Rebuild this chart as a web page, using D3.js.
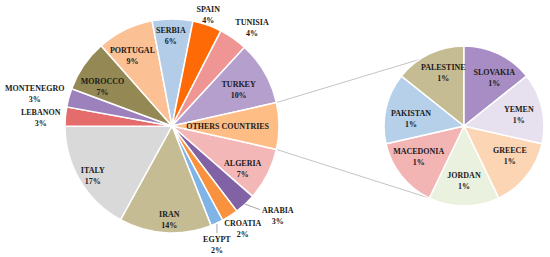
<!DOCTYPE html>
<html>
<head>
<meta charset="utf-8">
<script src="https://cdn.jsdelivr.net/npm/d3@7"></script>
<style>
  body { margin: 0; background: #fff; }
  svg text { font-family: "Liberation Serif", serif; font-weight: bold; font-size: 9px; fill: #1a1a1a; }
</style>
</head>
<body>
<svg width="550" height="257"></svg>
<script>
// main pie, alphabetical like the source sheet, "others" goes last
var mainNames = ["ALGERIA", "ARABIA", "CROATIA", "EGYPT", "IRAN", "ITALY", "LEBANON",
                 "MONTENEGRO", "MOROCCO", "PORTUGAL", "SERBIA", "SPAIN", "TUNISIA", "TURKEY"];
var mainValues = [7.9, 3.2, 2.5, 1.9, 13.9, 16.9, 2.9, 2.8, 7.8, 8.5, 6.1, 4.4, 4.3, 9.6];
var mainPct = ["7%", "3%", "2%", "2%", "14%", "17%", "3%", "3%", "7%", "9%", "6%", "4%", "4%", "10%"];

var otherLabel = "OTHERS COUNTRIES";
var otherNames = ["GREECE", "JORDAN", "MACEDONIA", "PAKISTAN", "PALESTINE", "SLOVAKIA", "YEMEN"];
var otherValues = [1, 1, 1, 1, 1, 1, 1];
var otherPct = ["1%", "1%", "1%", "1%", "1%", "1%", "1%"];

var mainColors = ["#f4b7b7", "#8162a4", "#f9923f", "#80b3e6", "#c5bc93", "#d9d9d9", "#e46c6c",
                  "#9c81bd", "#948954", "#fbc194", "#b3cce8", "#fd6a06", "#ef9594", "#b59fcd"];
var othersColor = "#fdbd85";
var otherColors = ["#fcd5b5", "#ebf1df", "#f3b4b4", "#b6d0ea", "#c5bc93", "#a88dc4", "#e7e0ee"];

// label placement: [radius factor, angle shift in degrees]
var place = {
  "ALGERIA": [0.77, 4], "ARABIA": [1.29, -7], "CROATIA": [1.16, -2], "EGYPT": [1.18, 4],
  "IRAN": [0.87, -2], "ITALY": [0.87, -1], "LEBANON": [1.23, -1], "MONTENEGRO": [1.32, -1.7],
  "MOROCCO": [0.75, -4.5], "PORTUGAL": [0.76, -3], "SERBIA": [0.85, -1], "SPAIN": [1.1, -1.3],
  "TUNISIA": [1.19, 4], "TURKEY": [0.71, 1.25], "OTHERS COUNTRIES": [0.52, 0]
};
var place2 = {
  "GREECE": [0.68, -6], "JORDAN": [0.67, 0], "MACEDONIA": [0.68, 5], "PAKISTAN": [0.67, -4],
  "PALESTINE": [0.72, 4.6], "SLOVAKIA": [0.72, 6], "YEMEN": [0.70, 1]
};

var svg = d3.select("svg"),
    cx = 172, cy = 126, r = 107,
    cx2 = 464, cy2 = 126, r2 = 80,
    squeeze = 0.89,
    rad = Math.PI / 180;

var othersValue = d3.sum(otherValues);
var names = mainNames.concat([otherLabel]),
    values = mainValues.concat([othersValue]),
    pcts = mainPct.concat([""]),
    colors = mainColors.concat([othersColor]);

var total = d3.sum(values);
var othersAngle = 2 * Math.PI * othersValue / total;
var start = Math.PI / 2 + othersAngle / 2;   // others slice centred on the right

var pie = d3.pie().sort(null).value(function(d) { return d; })
    .startAngle(start).endAngle(start + 2 * Math.PI);
var arcs = pie(values);

var arc = d3.arc().innerRadius(0).outerRadius(r);

function pt(a, rr, x0, y0) {
  return [x0 + rr * Math.sin(a), y0 - rr * Math.cos(a)];
}

// two-line label, glyphs narrowed a bit to look like the book face of the original
function label(c, name, pct) {
  var t = svg.append("text").attr("text-anchor", "middle")
      .attr("transform", "translate(" + c[0] + "," + c[1] + ") scale(" + squeeze + ",1)")
      .attr("y", pct ? -2 : 3);
  t.append("tspan").attr("x", 0).text(name);
  if (pct) t.append("tspan").attr("x", 0).attr("dy", 11).text(pct);
}

// second pie
var pie2 = d3.pie().sort(null).value(function(d) { return d; })
    .startAngle(2 * Math.PI * 2 / 7).endAngle(2 * Math.PI * 2 / 7 + 2 * Math.PI);
var arcs2 = pie2(otherValues);
var arc2 = d3.arc().innerRadius(0).outerRadius(r2);

// connector lines
var oth = arcs[arcs.length - 1];
var top2 = arcs2[5].startAngle, bot2 = arcs2[2].startAngle;
var conn = [
  [pt(oth.startAngle, r, cx, cy), pt(top2, r2, cx2, cy2)],
  [pt(oth.endAngle, r, cx, cy), pt(bot2, r2, cx2, cy2)]
];
svg.selectAll(".conn").data(conn).enter().append("line")
    .attr("class", "conn")
    .attr("x1", function(d) { return d[0][0]; })
    .attr("y1", function(d) { return d[0][1]; })
    .attr("x2", function(d) { return d[1][0]; })
    .attr("y2", function(d) { return d[1][1]; })
    .attr("stroke", "#c4c4c4").attr("stroke-width", 1);

var g = svg.append("g").attr("transform", "translate(" + cx + "," + cy + ")");
g.selectAll("path").data(arcs).enter().append("path")
    .attr("d", arc)
    .attr("fill", function(d, i) { return colors[i]; })
    .attr("stroke", "#fff").attr("stroke-width", 1.5);

var g2 = svg.append("g").attr("transform", "translate(" + cx2 + "," + cy2 + ")");
g2.selectAll("path").data(arcs2).enter().append("path")
    .attr("d", arc2)
    .attr("fill", function(d, i) { return otherColors[i]; })
    .attr("stroke", "#fff").attr("stroke-width", 1.5);

// labels, main pie
arcs.forEach(function(d, i) {
  var p = place[names[i]];
  var mid = (d.startAngle + d.endAngle) / 2 + p[1] * rad;
  var c = pt(mid, r * p[0], cx, cy);
  label(c, names[i], pcts[i]);

  // leader lines for the two crowded slices at the bottom
  var m0 = (d.startAngle + d.endAngle) / 2;
  var e = pt(m0, r, cx, cy);
  if (names[i] === "ARABIA") {
    svg.append("polyline")
        .attr("points", [e, [c[0] - 18, c[1] - 5]].join(" "))
        .attr("fill", "none").attr("stroke", "#a6a6a6").attr("stroke-width", 1);
  }
  if (names[i] === "EGYPT") {
    svg.append("line")
        .attr("x1", e[0]).attr("y1", e[1] + 1).attr("x2", e[0]).attr("y2", c[1] - 11)
        .attr("stroke", "#a6a6a6").attr("stroke-width", 1);
  }
});

// labels, second pie
arcs2.forEach(function(d, i) {
  var p = place2[otherNames[i]];
  var mid = (d.startAngle + d.endAngle) / 2 + p[1] * rad;
  label(pt(mid, r2 * p[0], cx2, cy2), otherNames[i], otherPct[i]);
});
</script>
</body>
</html>
